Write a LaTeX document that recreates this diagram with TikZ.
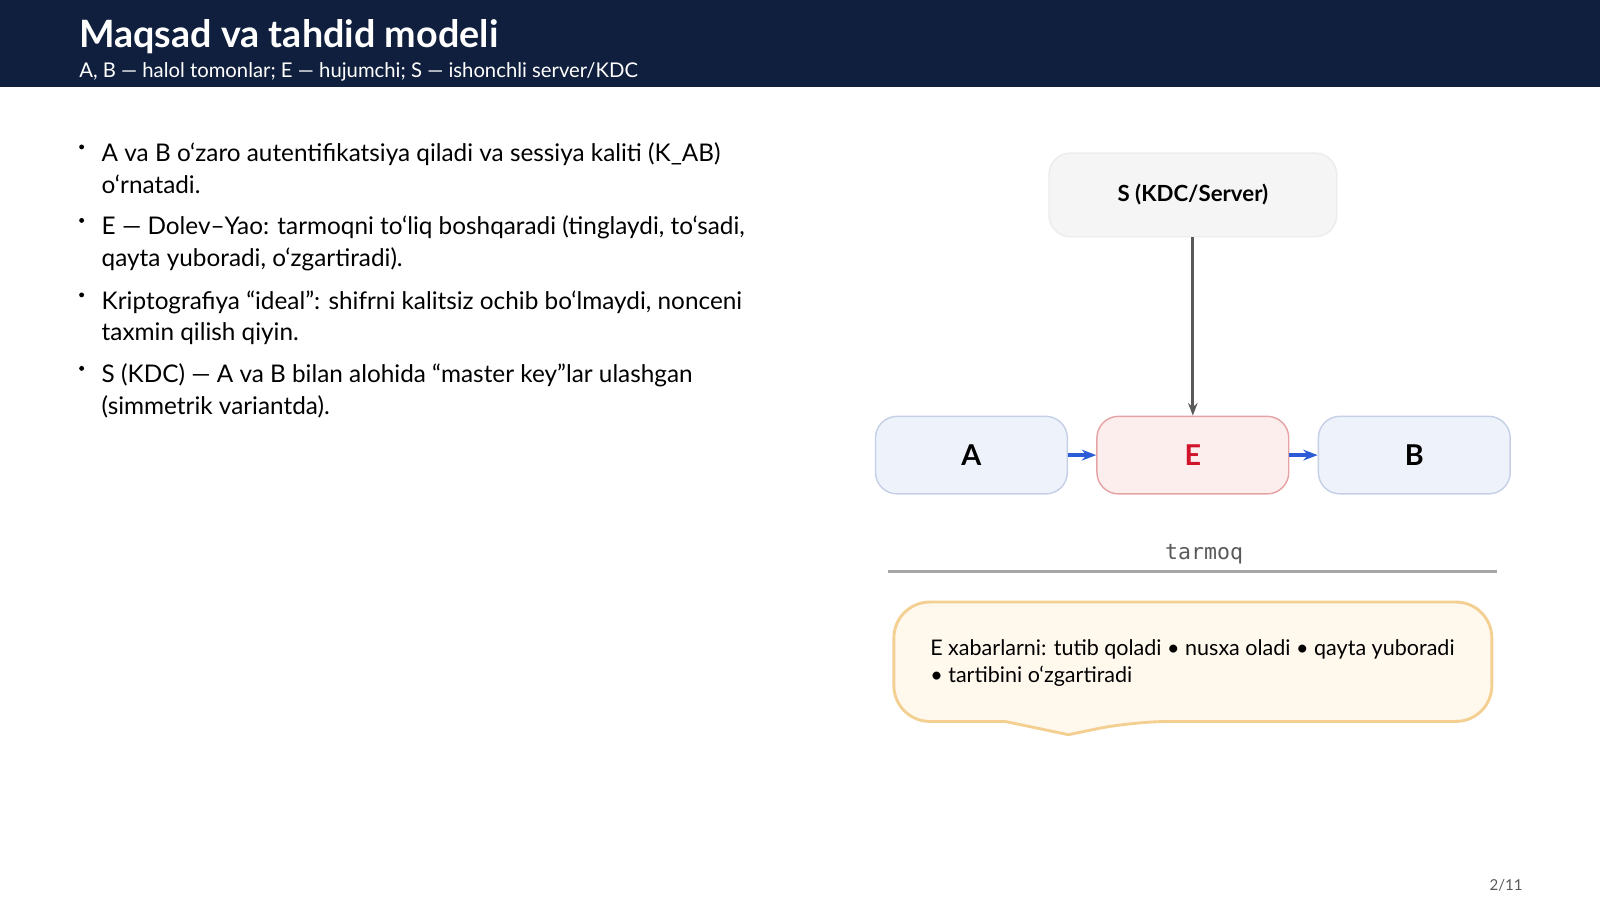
\documentclass[tikz,border=0pt]{standalone}
\usepackage{fontspec}
\setmainfont{Lato}
\setmonofont{DejaVu Sans Mono}
\usetikzlibrary{positioning, arrows.meta}
\definecolor{navy}{HTML}{0F1F3D}
\definecolor{partyfill}{HTML}{EEF2FB}
\definecolor{partyline}{HTML}{C5D0E6}
\definecolor{evefill}{HTML}{FDEEEE}
\definecolor{eveline}{HTML}{E6A3A6}
\definecolor{evered}{HTML}{D0142C}
\definecolor{msgblue}{HTML}{2B5BD7}
\definecolor{notefill}{HTML}{FFF8EC}
\definecolor{noteline}{HTML}{F3CF92}

\begin{document}
\begin{tikzpicture}
	  [x=0.01cm, y=-0.01cm,
	  %
	  party/.style={rectangle, draw=partyline, fill=partyfill, rounded corners=6pt, minimum width=188*0.01cm, minimum height=76*0.01cm, font=\fontsize{8}{9}\selectfont\bfseries},
	  %
	  bullet/.style={anchor=north west, text width=665*0.01cm, align=flush left, inner sep=0pt, font=\fontsize{6.78}{8.8}\selectfont},
	  %
	  msgline/.style={draw=msgblue, line width=1pt, arrows={-Stealth[length=4pt]}}]

	    \useasboundingbox (0,0) rectangle (1568,881);
	    \fill[navy] (0,0) rectangle (1568,85);
	    \node[anchor=base west, inner sep=0pt, text=white, font=\fontsize{10.5}{11}\selectfont\bfseries] (title) at (77,47) {Maqsad va tahdid modeli};
	    \node[anchor=base west, inner sep=0pt, text=white, font=\fontsize{5.65}{6}\selectfont] (subtitle) at (77,76) {A, B — halol tomonlar; E — hujumchi; S — ishonchli server/KDC};

	    \foreach \y/\txt in {139/{A va B o‘zaro autentifikatsiya qiladi va sessiya kaliti (K\_AB) o‘rnatadi.},
	                         211/{E — Dolev–Yao: tarmoqni to‘liq boshqaradi (tinglaydi, to‘sadi, qayta yuboradi, o‘zgartiradi).},
	                         284/{Kriptografiya “ideal”: shifrni kalitsiz ochib bo‘lmaydi, nonceni taxmin qilish qiyin.},
	                         356/{S (KDC) — A va B bilan alohida “master key”lar ulashgan (simmetrik variantda).}}
	      {\node[bullet] at (99,\y) {\txt};
	       \fill (80,\y+5) circle (2.4);}

	    \node [party, draw=gray!15, fill=gray!8, minimum width=282*0.01cm, minimum height=82*0.01cm, font=\fontsize{6.2}{7}\selectfont\bfseries] (server) at (1169,191) {S (KDC/Server)};
	    \node [party] (alice) at (952,446) {A};
	    \node [party, draw=eveline, fill=evefill, text=evered] (eve) at (1169,446) {E};
	    \node [party] (bob) at (1386,446) {B};

	    \draw [draw=gray!70!black, line width=0.8pt, arrows={-Stealth[length=3.5pt]}] (server) -- (eve);
	    \draw [msgline] (alice) -- (eve);
	    \draw [msgline] (eve) -- (bob);

	    \node [font=\fontsize{6}{7}\ttfamily, text=gray!70!black] (net) at (1180,543) {tarmoq};
	    \coordinate (netL) at (870,560);
	    \coordinate (netR) at (1467,560);
	    \draw [gray!70, line width=0.6pt] (netL) -- (netR);

	    \draw [noteline, fill=notefill, line width=0.8pt, rounded corners=10pt]
	      (876,590) -- (1462,590) -- (1462,707) -- (1110,707) [sharp corners] -- (1047,720) -- (985,707) [rounded corners=10pt] -- (876,707) -- cycle;
	    \node [anchor=north west, align=left, inner sep=0pt, font=\fontsize{6}{7.7}\selectfont] (note) at (911,626) {E xabarlarni: tutib qoladi • nusxa oladi • qayta yuboradi\\• tartibini o‘zgartiradi};

	    \node [font=\fontsize{4.2}{5}\selectfont, text=gray!70!black] (page) at (1476,868) {2/11};
	  \end{tikzpicture}
\end{document}
